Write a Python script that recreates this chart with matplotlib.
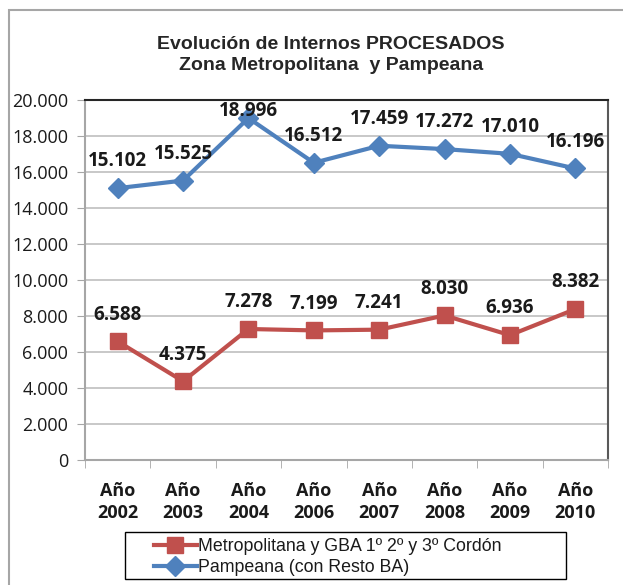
import matplotlib.pyplot as plt
from matplotlib.patches import Rectangle
from matplotlib.ticker import FuncFormatter, FixedLocator

years = ["2002", "2003", "2004", "2006", "2007", "2008", "2009", "2010"]
metropolitana = [6588, 4375, 7278, 7199, 7241, 8030, 6936, 8382]
pampeana = [15102, 15525, 18996, 16512, 17459, 17272, 17010, 16196]

BLUE = "#4F81BD"
RED = "#C0504D"
NUM_FONT = ["Open Sans", "DejaVu Sans"]
TXT_FONT = ["Liberation Sans", "DejaVu Sans"]
YMAX = 20000


def miles(v, pos=None):
    return f"{int(v):,}".replace(",", ".")


fig = plt.figure(figsize=(6.23, 5.85), dpi=100)
ax = fig.add_axes([85 / 623, 1 - 460 / 585, (608 - 85) / 623, (460 - 100) / 585])

# outer chart frame
fig.patches.append(Rectangle((9 / 623, -0.1), 1.2, 1 - 10 / 585 + 0.1,
                             transform=fig.transFigure, fill=False,
                             edgecolor="#A6A6A6", linewidth=1.5))

x = list(range(len(years)))
ax.plot(x, metropolitana, color=RED, linewidth=3, marker="s", markersize=11,
        label="Metropolitana y GBA 1º 2º y 3º Cordón", zorder=3)
ax.plot(x, pampeana, color=BLUE, linewidth=3, marker="D", markersize=10,
        label="Pampeana (con Resto BA)", zorder=3)

label_kw = dict(textcoords="offset points", ha="center", fontsize=13.5,
                fontweight="bold", family=NUM_FONT, color="#1a1a1a", zorder=4)
for serie in (pampeana, metropolitana):
    for xi, v in zip(x, serie):
        if v > 0.93 * YMAX:
            # keep labels near the top inside the plot area
            ax.annotate(miles(v), (xi, YMAX), xytext=(0, -1), va="top", **label_kw)
        else:
            ax.annotate(miles(v), (xi, v), xytext=(0, 12), va="bottom", **label_kw)

ax.set_xlim(-0.5, len(years) - 0.5)
ax.set_ylim(0, YMAX)
ax.set_yticks(range(0, YMAX + 1, 2000))
ax.yaxis.set_major_formatter(FuncFormatter(miles))
ax.grid(axis="y", color="#BFBFBF", linewidth=1.2)
ax.set_axisbelow(True)

ax.set_xticks(x)
ax.set_xticklabels([f"Año\n{y}" for y in years], fontsize=13,
                   fontweight="bold", family=NUM_FONT, color="#1a1a1a",
                   linespacing=1.3)
ax.xaxis.set_minor_locator(FixedLocator([i - 0.5 for i in range(len(years) + 1)]))
ax.tick_params(axis="x", which="major", length=0, pad=16)
ax.tick_params(axis="x", which="minor", length=6, color="#A6A6A6", direction="out")
ax.tick_params(axis="y", length=6, color="#A6A6A6", labelsize=13, pad=6)
for lbl in ax.get_yticklabels():
    lbl.set_family(NUM_FONT)
    lbl.set_color("#1a1a1a")

ax.spines["left"].set_color("#A6A6A6")
ax.spines["bottom"].set_color("#A6A6A6")
ax.spines["top"].set_color("#262626")
ax.spines["right"].set_color("#595959")
for s in ax.spines.values():
    s.set_linewidth(1.5)

fig.text(0.531, 1 - 55 / 585, "Evolución de Internos PROCESADOS\nZona Metropolitana  y Pampeana",
         ha="center", va="center", fontsize=14, fontweight="bold",
         family=TXT_FONT, color="#262626", linespacing=1.35)

# legend box drawn separately, entries placed inside it
fig.patches.append(Rectangle((125 / 623, 1 - 579 / 585), (566 - 125) / 623, 47 / 585,
                             transform=fig.transFigure, fill=False,
                             edgecolor="black", linewidth=1))
leg = fig.legend(loc="center left", bbox_to_anchor=(154 / 623, 1 - 557 / 585),
                 prop={"family": TXT_FONT, "size": 12.8}, handlelength=2.4,
                 frameon=False, borderpad=0, labelspacing=0.2,
                 handletextpad=0.1, borderaxespad=0)
for t in leg.get_texts():
    t.set_color("#1a1a1a")

fig.savefig("out.png", dpi=100)
